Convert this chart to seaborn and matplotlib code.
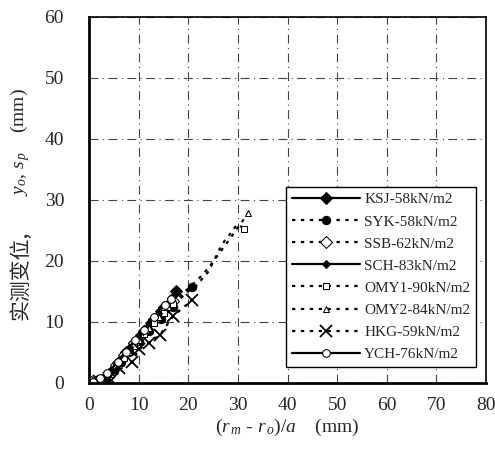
import matplotlib
matplotlib.use("Agg")
import matplotlib.pyplot as plt
import seaborn as sns
import pandas as pd

# ---- data ----
labels = ["KSJ-58kN/m2", "SYK-58kN/m2", "SSB-62kN/m2", "SCH-83kN/m2",
          "OMY1-90kN/m2", "OMY2-84kN/m2", "HKG-59kN/m2", "YCH-76kN/m2"]

ksj_x = [0.3, 1.5, 3.0, 4.0, 5.0, 6.0, 7.5, 9.0, 11.0, 13.0, 15.0, 17.5]
ksj_y = [0.2, 0.3, 0.5, 1.2, 2.2, 3.5, 5.0, 6.5, 8.5, 10.5, 12.5, 15.0]

syk_x = [0.5, 2.0, 3.5, 5.0, 6.5, 8.0, 10.0, 12.0, 14.5, 17.0, 19.0, 20.8]
syk_y = [0.2, 0.4, 0.8, 2.0, 3.5, 5.0, 6.8, 8.5, 10.5, 12.5, 14.3, 15.7]

ssb_x = [0.4, 2.5, 4.0, 5.5, 7.0, 9.0, 11.0, 13.0, 15.0, 17.0]
ssb_y = [0.2, 0.5, 1.5, 3.0, 4.5, 6.5, 8.5, 10.3, 12.0, 13.5]

sch_x = [1.0, 3.0, 4.5, 6.0, 8.0, 10.0, 12.0, 14.0, 16.5]
sch_y = [0.3, 0.8, 2.0, 3.8, 5.8, 7.8, 9.8, 11.8, 14.0]

omy1_x = [0.5, 2.0, 4.0, 5.5, 7.0, 9.0, 11.0, 13.0, 15.0, 17.0, 19.0,
          21.4, 22.6, 24.0, 25.0, 26.4, 27.4, 28.8, 29.8, 31.3]
omy1_y = [0.2, 0.4, 1.2, 2.6, 4.0, 6.0, 8.0, 9.8, 11.5, 13.0, 14.5,
          15.7, 16.9, 18.2, 19.8, 22.1, 23.4, 24.8, 26.0, 25.3]

omy2_x = [0.5, 2.5, 4.5, 6.0, 8.0, 10.0, 12.0, 14.0, 16.0, 18.0, 20.0,
          22.0, 24.0, 26.0, 28.0, 30.0, 32.1]
omy2_y = [0.2, 0.5, 1.5, 3.0, 5.0, 7.0, 9.0, 10.8, 12.5, 14.0, 15.5,
          17.0, 18.8, 21.0, 23.2, 25.5, 27.9]

hkg_x = [0.5, 2.0, 4.0, 6.0, 8.7, 10.0, 12.0, 14.3, 17.0, 20.8]
hkg_y = [0.2, 0.3, 0.8, 2.5, 3.4, 5.5, 6.5, 7.9, 11.0, 13.6]

ych_x = [0.8, 2.2, 3.6, 5.8, 7.5, 9.3, 11.0, 13.0, 15.3, 16.5]
ych_y = [0.2, 0.8, 1.6, 3.4, 5.0, 7.0, 8.7, 10.8, 12.8, 13.8]

x_ticks = [0, 10, 20, 30, 40, 50, 60, 70, 80]
y_ticks = [0, 10, 20, 30, 40, 50, 60]

# ---- style ----
sns.set_theme(style="white")
plt.rcParams["font.family"] = ["Liberation Serif", "Noto Sans CJK SC", "DejaVu Sans"]
plt.rcParams["mathtext.fontset"] = "custom"
plt.rcParams["mathtext.rm"] = "Liberation Serif"
plt.rcParams["mathtext.it"] = "Liberation Serif:italic"

fig = plt.figure(figsize=(4.95, 4.58), dpi=100)
ax = fig.add_axes([0.18, 0.164, 0.802, 0.799])

dotted = (0, (1.5, 2.5))
series = [
    (ksj_x, ksj_y, dict(linestyle="-", marker="D", markersize=6, mfc="black", mec="black")),
    (syk_x, syk_y, dict(linestyle=dotted, marker="o", markersize=6, mfc="black", mec="black")),
    (ssb_x, ssb_y, dict(linestyle=dotted, marker="D", markersize=6, mfc="white", mec="black")),
    (sch_x, sch_y, dict(linestyle="-", marker="D", markersize=4.5, mfc="black", mec="black")),
    (omy1_x, omy1_y, dict(linestyle=dotted, marker="s", markersize=5, mfc="white", mec="black")),
    (omy2_x, omy2_y, dict(linestyle=dotted, marker="^", markersize=5, mfc="white", mec="black")),
    (hkg_x, hkg_y, dict(linestyle=dotted, marker="x", markersize=9, mfc="black", mec="black", mew=1.3)),
    (ych_x, ych_y, dict(linestyle="-", marker="o", markersize=5.5, mfc="white", mec="black")),
]

for (xs, ys, kw), lab in zip(series, labels):
    df = pd.DataFrame({"x": xs, "y": ys})
    me = [i for i, v in enumerate(xs) if v < 18 or i == len(xs) - 1]
    sns.lineplot(data=df, x="x", y="y", ax=ax, sort=False, estimator=None,
                 color="black", linewidth=1.6, label=lab, markevery=me, **kw)

ax.set_xlim(0, 80)
ax.set_ylim(0, 60)
ax.set_xticks(x_ticks)
ax.set_yticks(y_ticks)
ax.set_xticklabels([str(v) for v in x_ticks], fontsize=14)
ax.set_yticklabels([str(v) for v in y_ticks], fontsize=14)
ax.tick_params(axis="x", length=0, pad=10)
ax.tick_params(axis="y", length=0, pad=18)

ax.grid(True, color="#444444", linestyle=(0, (8, 4, 1, 4)), linewidth=0.8)
ax.set_axisbelow(True)
for side in ["left", "bottom"]:
    ax.spines[side].set_linewidth(2.0)
for side in ["top", "right"]:
    ax.spines[side].set_linewidth(1.2)
for sp in ax.spines.values():
    sp.set_color("black")

ax.set_xlabel(r"$(r_{\,m}$ - $r_{\,o})/a$    (mm)", fontsize=14, labelpad=2)
ax.set_ylabel("")
# y label: CJK part and math part drawn as separate rotated texts
fig.text(20 / 495, 1 - 275 / 458, "实测变位,", rotation=90, ha="center", va="center",
         fontsize=15, family=["Noto Sans CJK SC", "DejaVu Sans"])
fig.text(20 / 495, 1 - 142 / 458, r"$y_o$, $s_{\,p}$    (mm)", rotation=90,
         ha="center", va="center", fontsize=14)

leg = ax.legend(loc="lower right", bbox_to_anchor=(0.995, 0.022), fontsize=11,
                handlelength=4.4, labelspacing=0.55, borderpad=0.4,
                handletextpad=0.3, fancybox=False, framealpha=1,
                edgecolor="black")
leg.get_frame().set_linewidth(1.0)

fig.savefig("out.png", dpi=100)
